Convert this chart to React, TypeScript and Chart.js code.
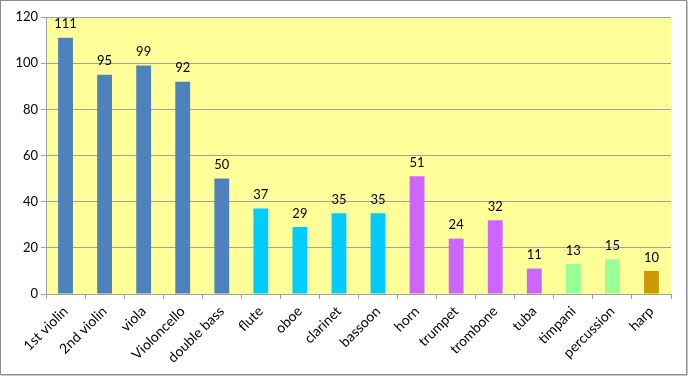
import React, { useEffect, useRef } from "react";
import { Chart, registerables } from "chart.js";

Chart.register(...registerables);

const categories = ["1st violin", "2nd violin", "viola", "Violoncello", "double bass", "flute", "oboe", "clarinet", "bassoon", "horn", "trumpet", "trombone", "tuba", "timpani", "percussion", "harp"];
const values = [111, 95, 99, 92, 50, 37, 29, 35, 35, 51, 24, 32, 11, 13, 15, 10];
const groups = ["str", "str", "str", "str", "str", "ww", "ww", "ww", "ww", "br", "br", "br", "br", "perc", "perc", "harp"];
const groupColors: Record<string, string> = { str: "#4F81BD", ww: "#00CCFF", br: "#CC66FF", perc: "#99FF99", harp: "#CC9900" };
const yTicks = [0, 20, 40, 60, 80, 100, 120];

const FONT = "Lato, 'Open Sans', sans-serif";

export default function App() {
  const ref = useRef<HTMLCanvasElement>(null);
  useEffect(() => {
    if (!ref.current) return;
    const bgPlugin = {
      id: "bg",
      beforeDraw(chart: any) {
        const { ctx, chartArea: a } = chart;
        ctx.save();
        ctx.fillStyle = "#ffffff";
        ctx.fillRect(0, 0, chart.width, chart.height);
        ctx.fillStyle = "#FFFF99";
        ctx.fillRect(a.left, a.top, a.right - a.left, a.bottom - a.top);
        ctx.restore();
      },
      afterDraw(chart: any) {
        const { ctx } = chart;
        ctx.save();
        ctx.strokeStyle = "#8c8c8c";
        ctx.lineWidth = 1;
        ctx.strokeRect(0.5, 0.5, chart.width - 2, chart.height - 2);
        ctx.strokeStyle = "#c8c8c8";
        ctx.beginPath();
        ctx.moveTo(chart.width - 0.5, 1);
        ctx.lineTo(chart.width - 0.5, chart.height - 0.5);
        ctx.lineTo(1, chart.height - 0.5);
        ctx.stroke();
        ctx.restore();
      },
    };
    const labelPlugin = {
      id: "labels",
      afterDatasetsDraw(chart: any) {
        const { ctx } = chart;
        const meta = chart.getDatasetMeta(0);
        ctx.save();
        ctx.fillStyle = "#000";
        ctx.font = `13px ${FONT}`;
        ctx.textAlign = "center";
        ctx.textBaseline = "bottom";
        meta.data.forEach((bar: any, i: number) => {
          ctx.fillText(String(values[i]), bar.x, bar.y - 7);
        });
        ctx.restore();
      },
    };
    const chart = new Chart(ref.current, {
      type: "bar",
      data: {
        labels: categories,
        datasets: [
          {
            data: values,
            backgroundColor: groups.map((g) => groupColors[g]),
            barPercentage: 0.38,
            categoryPercentage: 1,
          },
        ],
      },
      options: {
        animation: false,
        responsive: false,
        layout: { padding: { top: 17, right: 17, left: 0, bottom: 0 } },
        plugins: { legend: { display: false }, tooltip: { enabled: false } },
        scales: {
          x: {
            grid: { display: true, drawOnChartArea: false, drawTicks: true, tickLength: 5, color: "#a0a0a0", offset: true },
            border: { display: true, color: "#a0a0a0" },
            ticks: { minRotation: 45, maxRotation: 45, autoSkip: false, color: "#000", font: { family: FONT, size: 14 }, padding: 4 },
            afterFit: (s: any) => { s.height = 82; },
          },
          y: {
            min: 0,
            max: 120,
            afterBuildTicks: (s: any) => { s.ticks = yTicks.map((v) => ({ value: v })); },
            grid: { color: "#a0a0a0", tickLength: 5, drawTicks: true },
            border: { display: true, color: "#a0a0a0" },
            ticks: { color: "#000", font: { family: FONT, size: 13 }, padding: 3 },
            afterFit: (s: any) => { s.width = 46; },
          },
        },
      },
      plugins: [bgPlugin, labelPlugin],
    });
    return () => chart.destroy();
  }, []);
  return (
    <div style={{ position: "fixed", left: 0, top: 0, width: 688, height: 376 }}>
      <canvas ref={ref} width={688} height={376} style={{ display: "block" }} />
    </div>
  );
}
